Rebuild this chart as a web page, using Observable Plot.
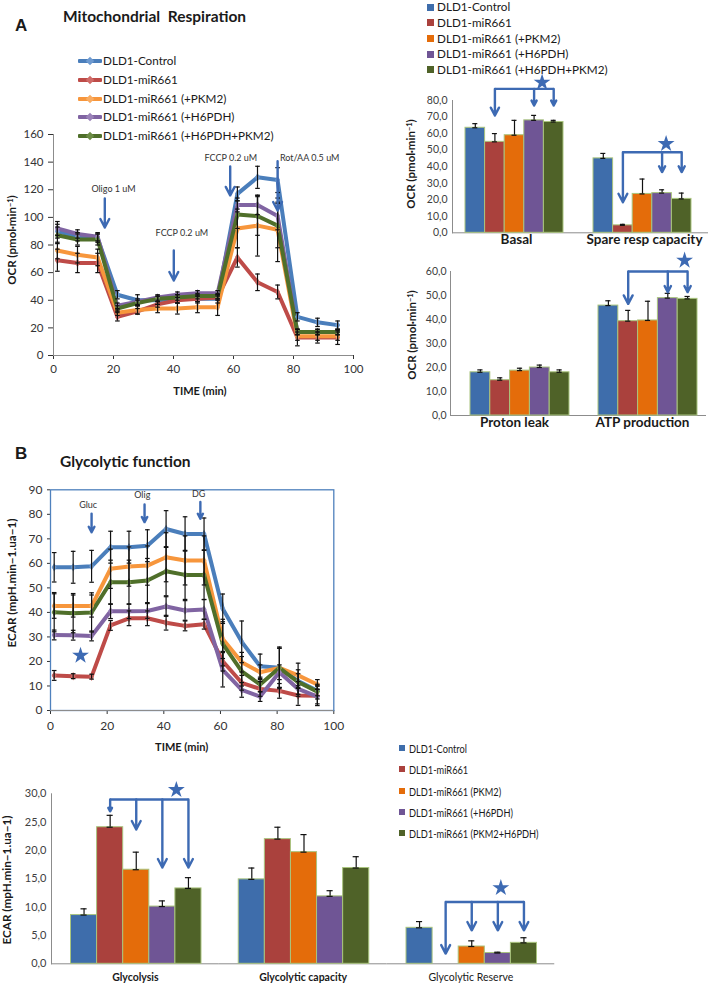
<!DOCTYPE html>
<html>
<head>
<meta charset="utf-8">
<script src="https://cdn.jsdelivr.net/npm/d3@7"></script>
<script src="https://cdn.jsdelivr.net/npm/@observablehq/plot@0.6"></script>
<style>
  html, body { margin: 0; padding: 0; background: #fff; }
  #fig { position: relative; width: 709px; height: 987px; overflow: hidden; background: #fff;
         font-family: Lato, "Open Sans", sans-serif; color: #1a1a1a; }
  #fig svg { position: absolute; overflow: visible; }
  .t { position: absolute; white-space: pre; line-height: 1; }
  .sw { position: absolute; }
  sup { font-size: 0.65em; vertical-align: 0.45em; line-height: 0; }
</style>
</head>
<body>
<div id="fig"></div>
<script>
// ---------------- data ----------------
const seriesIds = ["ctrl", "mir", "pkm2", "h6pdh", "both"];
const ocrLegendLabels = ["DLD1-Control", "DLD1-miR661", "DLD1-miR661 (+PKM2)", "DLD1-miR661 (+H6PDH)", "DLD1-miR661 (+H6PDH+PKM2)"];
const ecarLegendLabels = ["DLD1-Control", "DLD1-miR661", "DLD1-miR661 (PKM2)", "DLD1-miR661 (+H6PDH)", "DLD1-miR661 (PKM2+H6PDH)"];

// OCR time course (panel A, left)
const ocrTime = [1.3, 8, 14.7, 21.3, 28, 34.7, 41.3, 48, 54.7, 61.3, 68, 74.7, 81.3, 88, 94.7];
const ocrCtrl  = [90, 86, 85, 44, 40, 40, 41, 41, 41, 117, 129, 127, 28, 24, 22];
const ocrMir   = [69, 67, 67, 28, 32, 37, 40, 41, 42, 71, 53, 46, 13, 13, 13];
const ocrPkm2  = [76, 73, 71, 31, 33, 34, 34, 35, 35, 92, 94, 91, 14, 14, 14];
const ocrH6pdh = [92, 88, 86, 36, 39, 42, 44, 45, 45, 109, 109, 101, 17, 17, 17];
const ocrBoth  = [87, 84, 84, 34, 38, 41, 42, 43, 43, 102, 101, 94, 17, 17, 17];
const ocrCtrlErr  = [5, 3, 3, 3, 4, 3, 3, 3, 3, 5, 8, 9, 3, 3, 3];
const ocrMirErr   = [8, 7, 7, 3, 2, 2, 2, 2, 2, 7, 6, 5, 6, 4, 5];
const ocrPkm2Err  = [6, 6, 6, 2, 3, 3, 4, 4, 6, 14, 22, 23, 3, 3, 3];
const ocrH6pdhErr = [5, 3, 3, 2, 2, 2, 2, 2, 2, 5, 7, 10, 2, 2, 2];
const ocrBothErr  = [6, 4, 4, 2, 2, 2, 2, 2, 2, 10, 14, 16, 2, 2, 2];
const ocrEventLabels = ["Oligo 1 uM", "FCCP 0.2 uM", "FCCP 0.2 uM", "Rot/AA 0.5 uM"];
const ocrEventTime   = [17.1, 40.1, 58.9, 74.7];
const ocrEventFrom   = [113.7, 76, 136.9, 140.7];
const ocrEventTo     = [92.7, 54.3, 115.9, 105];
const ocrEventLabelTime = [20, 42.8, 59.1, 85.4];
const ocrEventLabelY    = [120.2, 88.3, 142.6, 142.6];

// OCR bar charts (panel A, right)
const ocrTopGroups = ["Basal", "Spare resp capacity"];
const basalValues = [63.5, 55, 59, 68, 67];
const basalErr    = [2.5, 5, 9, 3, 1];
const spareValues = [45, 4.5, 23.5, 24, 20.5];
const spareErr    = [3, 0.6, 9, 2, 3.5];
const ocrBottomGroups = ["Proton leak", "ATP production"];
const protonValues = [18, 14.7, 18.7, 20, 18];
const protonErr    = [1, 1, 1, 1, 1];
const atpValues    = [45.8, 39.3, 39.6, 48.9, 48.6];
const atpErr       = [2, 4.5, 8, 2, 1];

// significance brackets (value units)
const ocrTopBrackets = [
  {group: "Basal", from: "mir", to: "both", level: 87},
  {group: "Spare resp capacity", from: "mir", to: "both", level: 48.7}
];
const ocrTopArrows = [
  {group: "Basal", series: "mir", level: 87, tip: 70.9},
  {group: "Basal", series: "h6pdh", level: 87, tip: 77},
  {group: "Basal", series: "both", level: 87, tip: 77},
  {group: "Spare resp capacity", series: "mir", level: 48.7, tip: 18.5},
  {group: "Spare resp capacity", series: "h6pdh", level: 48.7, tip: 36.7},
  {group: "Spare resp capacity", series: "both", level: 48.7, tip: 36.7}
];
const ocrTopStars = [
  {group: "Basal", series: "h6pdh", value: 90.9},
  {group: "Spare resp capacity", series: "h6pdh", value: 53.8}
];
const ocrBottomBrackets = [{group: "ATP production", from: "mir", to: "both", level: 60}];
const ocrBottomArrows = [
  {group: "ATP production", series: "mir", level: 60, tip: 46.5},
  {group: "ATP production", series: "h6pdh", level: 60, tip: 51.4},
  {group: "ATP production", series: "both", level: 60, tip: 51.4}
];
const ocrBottomStars = [{group: "ATP production", series: "both", value: 64.6}];

// ECAR time course (panel B, top)
const ecarTime = [1.3, 8, 14.5, 21.2, 27.7, 34.2, 40.8, 47.5, 54.2, 60.8, 67.5, 74, 80.8, 87.4, 94.2];
const ecarCtrl  = [58.4, 58.4, 58.8, 66.6, 66.6, 67.2, 74.0, 72.0, 72.0, 41.5, 28.0, 18.0, 17.4, 12, 8];
const ecarMir   = [14.3, 14.0, 13.8, 34.7, 37.6, 37.6, 35.8, 34.5, 35.2, 20.1, 11.3, 8.8, 8.0, 6.1, 6.0];
const ecarPkm2  = [42.6, 42.6, 42.6, 57.8, 58.7, 59.1, 62.5, 61.2, 61.2, 29.2, 19.7, 15.6, 17.4, 14.3, 10.6];
const ecarH6pdh = [30.8, 30.7, 30.4, 40.5, 40.5, 40.6, 42.4, 40.8, 41.2, 16.6, 8.4, 5.7, 15.6, 8.8, 5.7];
const ecarBoth  = [40.1, 39.7, 40.0, 52.3, 52.3, 53.0, 56.8, 55.3, 55.3, 27.2, 16.0, 10.6, 17.4, 11.6, 7.7];
const ecarCtrlErr  = [6, 6.5, 6.5, 6.5, 6.5, 6.5, 7.5, 7, 6.5, 6, 8.5, 5, 8.5, 3, 2];
const ecarMirErr   = [2, 1, 1, 2, 3, 3, 3, 2, 2, 4, 3, 3, 3, 4, 4];
const ecarPkm2Err  = [5, 4.5, 4.5, 8, 8, 8, 10, 10, 10, 8, 4, 3, 8, 5, 2];
const ecarH6pdhErr = [2, 2, 2, 3, 3, 3, 4, 4, 4, 7, 3, 2, 3, 3, 3];
const ecarBothErr  = [8, 8, 8, 9, 9, 9, 10, 10, 10, 9, 6, 3, 8, 5, 3];
const ecarEventLabels = ["Gluc", "Olig", "DG"];
const ecarEventTime   = [14.5, 33.2, 52.9];
const ecarEventFrom   = [80.3, 84, 85];
const ecarEventTo     = [72.7, 76.8, 78.2];
const ecarEventLabelTime = [13.3, 32.4, 52.3];
const ecarEventLabelY    = [83.6, 87.7, 88.1];
const ecarStar = [{t: 10.6, v: 22.4}];

// ECAR bar chart (panel B, bottom)
const ecarGroups = ["Glycolysis", "Glycolytic capacity", "Glycolytic Reserve"];
const glycolysisValues = [8.6, 24.1, 16.6, 10.1, 13.3];
const glycolysisErr    = [1.1, 2.1, 3.1, 1.0, 1.9];
const capacityValues   = [14.9, 22.0, 19.7, 11.9, 16.9];
const capacityErr      = [2.0, 2.1, 3.1, 1.0, 2.0];
const reserveValues    = [6.35, 0, 3.05, 1.9, 3.7];
const reserveErr       = [1.1, 0, 1.0, 0.15, 0.9];
const ecarBrackets = [
  {group: "Glycolysis", from: "mir", to: "both", level: 29},
  {group: "Glycolytic Reserve", from: "mir", to: "both", level: 10.9}
];
const ecarArrows = [
  {group: "Glycolysis", series: "mir", level: 29, tip: 26.9},
  {group: "Glycolysis", series: "pkm2", level: 29, tip: 23.7},
  {group: "Glycolysis", series: "h6pdh", level: 29, tip: 17},
  {group: "Glycolysis", series: "both", level: 29, tip: 17},
  {group: "Glycolytic Reserve", series: "mir", level: 10.9, tip: 1.8},
  {group: "Glycolytic Reserve", series: "pkm2", level: 10.9, tip: 5.9},
  {group: "Glycolytic Reserve", series: "h6pdh", level: 10.9, tip: 5.9},
  {group: "Glycolytic Reserve", series: "both", level: 10.9, tip: 5.9}
];
const ecarStars = [
  {group: "Glycolysis", series: "h6pdh", value: 30.7},
  {group: "Glycolytic Reserve", series: "h6pdh", value: 13.4}
];

// ---------------- styles ----------------
const lineColors   = ["#4A7EBB", "#BE4B48", "#F7963C", "#8064A2", "#4F6F2A"];
const markerColors = ["#6E9AD0", "#CF6B68", "#F9AC62", "#9A82B8", "#6C8C45"];
const barColors    = ["#3E6DAB", "#AA413D", "#E46C0A", "#6F5595", "#4F6228"];
const arrowBlue = "#3D6AB3";
const axisGrey = "#8c8c8c";
const barEdge = "#A9C47E";
const fig = document.getElementById("fig");

function addText(html, x, y, opt = {}) {
  const d = document.createElement("div");
  d.className = "t";
  d.innerHTML = html;
  d.style.left = x + "px";
  d.style.top = y + "px";
  d.style.fontSize = (opt.size || 12) + "px";
  d.style.fontWeight = opt.weight || "normal";
  if (opt.family) d.style.fontFamily = opt.family;
  d.style.color = opt.color || "#1a1a1a";
  let tf = opt.rotate ? "translate(-50%,-50%) rotate(-90deg)"
         : opt.anchor === "middle" ? "translate(-50%,-50%)" : "translate(0,-50%)";
  if (opt.scaleX) { tf += ` scaleX(${opt.scaleX})`; d.style.transformOrigin = "0 50%"; }
  d.style.transform = tf;
  fig.appendChild(d);
  return d;
}
function addBox(x, y, w, h, color, extra = "") {
  const d = document.createElement("div");
  d.className = "sw";
  d.style.cssText = `left:${x}px;top:${y}px;width:${w}px;height:${h}px;background:${color};${extra}`;
  fig.appendChild(d);
}
function place(svg, left, top) {
  svg.style.left = left + "px";
  svg.style.top = top + "px";
  fig.appendChild(svg);
}
const capSymbol = {draw(ctx, size) { const w = Math.sqrt(size / Math.PI); ctx.moveTo(-w, 0); ctx.lineTo(w, 0); }};
const commaFmt = d => d.toFixed(1).replace(".", ",");

function lineRows(time, vals, errs) {
  return seriesIds.flatMap((s, i) => time.map((t, j) => ({series: s, t, v: vals[i][j], e: errs[i][j]})));
}
function eventRows(labels, time, from, to, lt, ly) {
  return labels.map((label, i) => ({label, t: time[i], from: from[i], to: to[i], lt: lt[i], ly: ly[i]}));
}

function lineChart(o) {
  const rows = o.rows;
  return Plot.plot({
    width: o.width, height: o.height,
    marginLeft: o.mL, marginRight: o.mR, marginTop: o.mT, marginBottom: o.mB,
    style: {fontFamily: "Lato, sans-serif", fontSize: o.tickSize + "px", color: "#333", background: "none", overflow: "visible"},
    x: {domain: [0, 100], ticks: 5, tickSize: 4, tickPadding: o.xPad, label: null},
    y: {domain: o.yDomain, ticks: o.yTicks, tickSize: o.yTickSize, tickPadding: 5, label: null},
    color: {domain: seriesIds, range: lineColors},
    marks: [
      ...(o.frame ? [Plot.frame({stroke: "#4F81BD", strokeWidth: 1.3})] : [Plot.ruleX([0], {stroke: axisGrey})]),
      Plot.ruleY([0], {stroke: axisGrey}),
      Plot.line(rows, {x: "t", y: "v", stroke: "series", strokeWidth: 4, curve: "linear"}),
      Plot.dot(rows, {x: "t", y: "v", fill: d => markerColors[seriesIds.indexOf(d.series)], symbol: "diamond", r: 2.6}),
      Plot.ruleX(rows, {x: "t", y1: d => d.v - d.e, y2: d => d.v + d.e, stroke: "#111", strokeWidth: 1.2}),
      Plot.dot(rows, {x: "t", y: d => d.v - d.e, symbol: capSymbol, r: 2.3, stroke: "#111", fill: "none", strokeWidth: 1.2}),
      Plot.dot(rows, {x: "t", y: d => d.v + d.e, symbol: capSymbol, r: 2.3, stroke: "#111", fill: "none", strokeWidth: 1.2}),
      Plot.arrow(o.events, {x1: "t", x2: "t", y1: "from", y2: "to", stroke: arrowBlue, strokeWidth: 2.4, headLength: 6, headAngle: 55}),
      Plot.text(o.events, {x: "lt", y: "ly", text: "label", fontSize: 9, fill: "#333"}),
      ...(o.stars ? [Plot.dot(o.stars, {x: "t", y: "v", symbol: "star", r: 5.3, fill: arrowBlue})] : [])
    ]
  });
}

function barChart(o) {
  const rows = o.groups.flatMap((g, gi) => seriesIds.map((s, si) => ({group: g, series: s, value: o.values[gi][si], err: o.errs[gi][si]})));
  const bars = rows.filter(d => d.value > 0);
  const errs = rows.filter(d => d.err > 0);
  const F = o.L + o.w + o.R;
  const po = (5 * F / o.w - 5) / 2;
  const align = o.L / (o.L + o.R);
  let yLine = null;
  try { yLine = Plot.frame({facet: "super", anchor: "left", stroke: axisGrey}); } catch (e) { yLine = null; }
  const marks = [
    ...(yLine ? [yLine] : []),
    Plot.ruleY([0], {stroke: axisGrey}),
    Plot.barY(bars, {fx: "group", x: "series", y: "value", fill: "series", stroke: barEdge, strokeWidth: 1}),
    Plot.ruleX(errs, {fx: "group", x: "series", y1: "value", y2: d => d.value + d.err, stroke: "#111", strokeWidth: 1.2}),
    Plot.tickY(errs, {fx: "group", x: "series", y: d => d.value + d.err, inset: o.capInset, stroke: "#111", strokeWidth: 1.2}),
    Plot.tickY(errs, {fx: "group", x: "series", y: "value", inset: o.capInset, stroke: "#111", strokeWidth: 1.2}),
    Plot.link(o.brackets, {fx: "group", x1: "from", x2: "to", y1: "level", y2: "level", stroke: arrowBlue, strokeWidth: 2.4}),
    Plot.arrow(o.arrows, {fx: "group", x1: "series", x2: "series", y1: "level", y2: "tip", stroke: arrowBlue, strokeWidth: 2.4, headLength: 6, headAngle: 55}),
    ...o.stars.map((s, i) => Plot.dot([s], {fx: "group", x: "series", y: "value", dx: o.starDx[i], symbol: "star", r: 5.3, fill: arrowBlue})),
    ...o.groups.map((g, i) => Plot.text([g], {fx: d => d, text: d => d, frameAnchor: "bottom", dy: o.labelDy, fontSize: o.labelSize, fontWeight: o.labelWeights[i], fill: "#1a1a1a"}))
  ];
  return Plot.plot({
    width: o.width, height: o.height,
    marginLeft: o.mL, marginRight: o.mR, marginTop: o.mT, marginBottom: o.mB,
    style: {fontFamily: "Lato, sans-serif", fontSize: o.tickFont + "px", color: "#404040", background: "none", overflow: "visible"},
    fx: {domain: o.groups, padding: 0, round: false, axis: null, label: null},
    x: {domain: seriesIds, paddingInner: 0, paddingOuter: po, align, round: false, axis: null},
    y: {domain: o.yDomain, ticks: o.yTicks, tickFormat: commaFmt, tickSize: 0, tickPadding: o.tickPad, label: null},
    color: {domain: seriesIds, range: barColors},
    marks
  });
}

// ---------------- panel A ----------------
addText("A", 15, 25, {size: 17, weight: "bold", family: "'Liberation Sans', Arial, sans-serif"});
addText("Mitochondrial  Respiration", 63, 17, {size: 15.5, weight: "bold"});

// line legend
const lineLegendY = [61, 80, 99, 117, 136];
ocrLegendLabels.forEach((lab, i) => {
  addBox(78, lineLegendY[i] - 2, 24, 4, lineColors[i], "border-radius:1px;");
  addBox(87, lineLegendY[i] - 3, 6, 6, markerColors[i], "transform:rotate(45deg);");
  addText(lab, 103, lineLegendY[i], {size: 11.7});
});

place(lineChart({
  rows: lineRows(ocrTime, [ocrCtrl, ocrMir, ocrPkm2, ocrH6pdh, ocrBoth], [ocrCtrlErr, ocrMirErr, ocrPkm2Err, ocrH6pdhErr, ocrBothErr]),
  events: eventRows(ocrEventLabels, ocrEventTime, ocrEventFrom, ocrEventTo, ocrEventLabelTime, ocrEventLabelY),
  width: 370, height: 270, mL: 53, mR: 17, mT: 14, mB: 35,
  yDomain: [0, 160], yTicks: 8, tickSize: 11.5, xPad: 5, yTickSize: 5, frame: false
}), 0, 120);
addText("OCR (pmol·min<sup>−1</sup>)", 12, 240, {size: 11.5, weight: "bold", rotate: true});
addText("TIME (min)", 200, 390, {size: 11, weight: "bold", anchor: "middle"});

// bar legend (top right)
const barLegendY = [7, 22.5, 38.5, 54, 69.5];
ocrLegendLabels.forEach((lab, i) => {
  addBox(427, barLegendY[i] - 3.5, 7, 7, barColors[i]);
  addText(lab, 437, barLegendY[i], {size: 11.7});
});

place(barChart({
  groups: ocrTopGroups, values: [basalValues, spareValues], errs: [basalErr, spareErr],
  brackets: ocrTopBrackets, arrows: ocrTopArrows, stars: ocrTopStars, starDx: [8, 4],
  width: 329, height: 190, mL: 72, mR: 1, mT: 30, mB: 27.7,
  L: 13, w: 98, R: 17, capInset: 7.3,
  yDomain: [0, 80], yTicks: 8, tickFont: 10.5, tickPad: 5,
  labelDy: 11, labelSize: 13.5, labelWeights: ["bold", "bold"]
}), 380, 70);
addText("OCR (pmol·min<sup>−1</sup>)", 411, 164, {size: 11.5, weight: "bold", rotate: true});

place(barChart({
  groups: ocrBottomGroups, values: [protonValues, atpValues], errs: [protonErr, atpErr],
  brackets: ocrBottomBrackets, arrows: ocrBottomArrows, stars: ocrBottomStars, starDx: [-3],
  width: 329, height: 190, mL: 70, mR: 3, mT: 21, mB: 25,
  L: 20, w: 99, R: 9, capInset: 7.3,
  yDomain: [0, 60], yTicks: 6, tickFont: 10.5, tickPad: 4,
  labelDy: 11.7, labelSize: 13.5, labelWeights: ["bold", "bold"]
}), 380, 250);
addText("OCR (pmol·min<sup>−1</sup>)", 411.5, 335, {size: 11.5, weight: "bold", rotate: true});

// ---------------- panel B ----------------
addText("B", 15, 453, {size: 17, weight: "bold", family: "'Liberation Sans', Arial, sans-serif"});
addText("Glycolytic function", 60, 462, {size: 15.5, weight: "bold"});

place(lineChart({
  rows: lineRows(ecarTime, [ecarCtrl, ecarMir, ecarPkm2, ecarH6pdh, ecarBoth], [ecarCtrlErr, ecarMirErr, ecarPkm2Err, ecarH6pdhErr, ecarBothErr]),
  events: eventRows(ecarEventLabels, ecarEventTime, ecarEventFrom, ecarEventTo, ecarEventLabelTime, ecarEventLabelY),
  stars: ecarStar,
  width: 345, height: 265, mL: 50, mR: 11.7, mT: 19.3, mB: 25,
  yDomain: [0, 90], yTicks: 9, tickSize: 12, xPad: 7, yTickSize: 3, frame: true
}), 0, 470);
addText("ECAR (mpH.min−1.ua−1)", 12, 583, {size: 11.7, weight: "bold", rotate: true});
addText("TIME (min)", 181.7, 745.7, {size: 11, weight: "bold", anchor: "middle"});

// bar legend (bottom)
const ecarLegendY = [748, 769, 791, 812, 833];
ecarLegendLabels.forEach((lab, i) => {
  addBox(399, ecarLegendY[i] - 3, 6, 6, barColors[i]);
  addText(lab, 409, ecarLegendY[i], {size: 11, scaleX: 0.84});
});

place(barChart({
  groups: ecarGroups, values: [glycolysisValues, capacityValues, reserveValues], errs: [glycolysisErr, capacityErr, reserveErr],
  brackets: ecarBrackets, arrows: ecarArrows, stars: ecarStars, starDx: [14, 3],
  width: 560, height: 217, mL: 51, mR: 5.75, mT: 23.3, mB: 23.7,
  L: 19.5, w: 130.5, R: 17.75, capInset: 10,
  yDomain: [0, 30], yTicks: 6, tickFont: 11, tickPad: 5,
  labelDy: 16.7, labelSize: 10.5, labelWeights: ["bold", "bold", "normal"]
}), 0, 770);
addText("ECAR (mpH.min−1.ua−1)", 7, 880, {size: 11.7, weight: "bold", rotate: true});
</script>
</body>
</html>
